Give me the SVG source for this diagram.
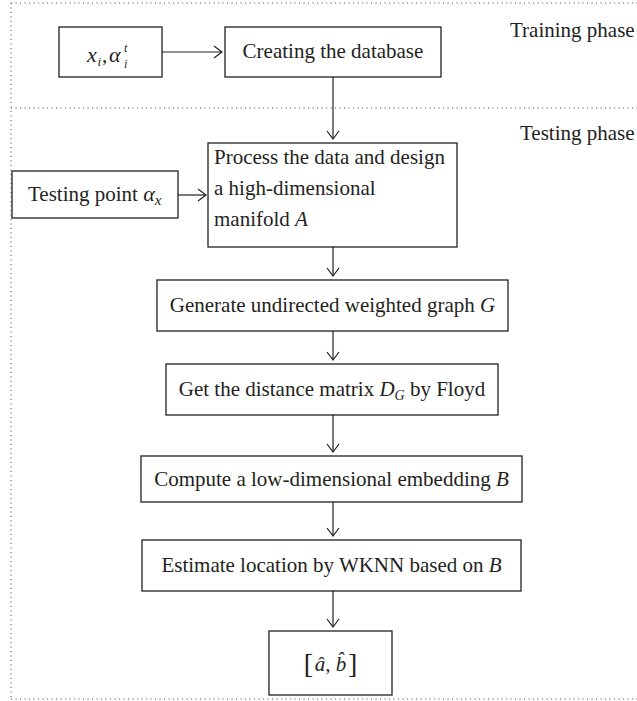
<svg xmlns="http://www.w3.org/2000/svg" width="637" height="701" viewBox="0 0 637 701">
<style>
.bx{fill:#fff;stroke:#231f20;stroke-width:1.3}
.t{font-family:"Liberation Serif","Times New Roman",serif;font-size:21px;fill:#231f20}
.c{text-anchor:middle}
.i{font-style:italic}
.dot{fill:none;stroke:#555;stroke-width:1.1;stroke-dasharray:1.1 3.4}
.ln{fill:none;stroke:#231f20;stroke-width:1.2}
</style>
<defs>
<marker id="ah" markerWidth="12" markerHeight="14" refX="9" refY="7" orient="auto" markerUnits="userSpaceOnUse">
<path d="M1,1 L9,7 L1,13" fill="none" stroke="#231f20" stroke-width="1.2"/>
</marker>
</defs>
<g id="frame">
<line class="dot" x1="11" y1="3" x2="637" y2="3"/>
<line class="dot" x1="11" y1="3" x2="11" y2="699"/>
<line class="dot" x1="11" y1="108" x2="637" y2="108"/>
<line class="dot" x1="11" y1="699" x2="637" y2="699"/>
<text class="t" x="510" y="37">Training phase</text>
<text class="t" x="520" y="140">Testing phase</text>
</g>
<g id="connectors">
<line class="ln" x1="162" y1="52" x2="222" y2="52" marker-end="url(#ah)"/>
<line class="ln" x1="333" y1="77" x2="333" y2="139" marker-end="url(#ah)"/>
<line class="ln" x1="178" y1="195" x2="206" y2="195" marker-end="url(#ah)"/>
<line class="ln" x1="333" y1="247" x2="333" y2="276" marker-end="url(#ah)"/>
<line class="ln" x1="333" y1="331" x2="333" y2="360" marker-end="url(#ah)"/>
<line class="ln" x1="333" y1="415" x2="333" y2="452" marker-end="url(#ah)"/>
<line class="ln" x1="333" y1="502" x2="333" y2="536" marker-end="url(#ah)"/>
<line class="ln" x1="333" y1="591" x2="333" y2="627" marker-end="url(#ah)"/>
</g>
<g id="n-input">
<rect class="bx" x="59" y="27" width="103" height="50"/>
<text class="t i" x="87" y="62" style="font-size:22px">x</text>
<text class="t i" x="97.5" y="66" style="font-size:13px">i</text>
<text class="t" x="102" y="62">,</text>
<text class="t i" x="109" y="62" style="font-size:22px">α</text>
<text class="t i" x="124" y="52" style="font-size:12px">t</text>
<text class="t i" x="124" y="68" style="font-size:12px">i</text>
</g>
<g id="n-database">
<rect class="bx" x="225" y="27" width="216" height="50"/>
<text class="t c" x="333" y="58">Creating the database</text>
</g>
<g id="n-testpoint">
<rect class="bx" x="12" y="171" width="166" height="47"/>
<text class="t" x="28" y="201">Testing point <tspan class="i" style="font-size:22px">α</tspan><tspan class="i" style="font-size:15px" dy="4">x</tspan></text>
</g>
<g id="n-process">
<rect class="bx" x="208" y="143" width="249" height="104"/>
<text class="t" x="214" y="164">Process the data and design</text>
<text class="t" x="214" y="195">a high-dimensional</text>
<text class="t" x="214" y="226">manifold <tspan class="i">A</tspan></text>
</g>
<g id="n-graph">
<rect class="bx" x="157" y="280" width="351" height="51"/>
<text class="t c" x="332.5" y="312">Generate undirected weighted graph <tspan class="i">G</tspan></text>
</g>
<g id="n-distance">
<rect class="bx" x="166" y="364" width="332" height="51"/>
<text class="t c" x="332" y="396">Get the distance matrix <tspan class="i">D</tspan><tspan class="i" style="font-size:14px" dy="4">G</tspan><tspan dy="-4"> by Floyd</tspan></text>
</g>
<g id="n-embedding">
<rect class="bx" x="141" y="456" width="381" height="46"/>
<text class="t c" x="331.5" y="486">Compute a low-dimensional embedding <tspan class="i">B</tspan></text>
</g>
<g id="n-estimate">
<rect class="bx" x="142" y="540" width="379" height="51"/>
<text class="t c" x="331.5" y="572">Estimate location by WKNN based on <tspan class="i">B</tspan></text>
</g>
<g id="n-result">
<rect class="bx" x="269" y="631" width="123" height="64"/>
<text class="t" x="313" y="673" style="font-size:28px;text-anchor:end">[</text>
<text class="t i c" x="330.5" y="671">â, b̂</text>
<text class="t" x="348" y="673" style="font-size:28px">]</text>
</g>
</svg>
